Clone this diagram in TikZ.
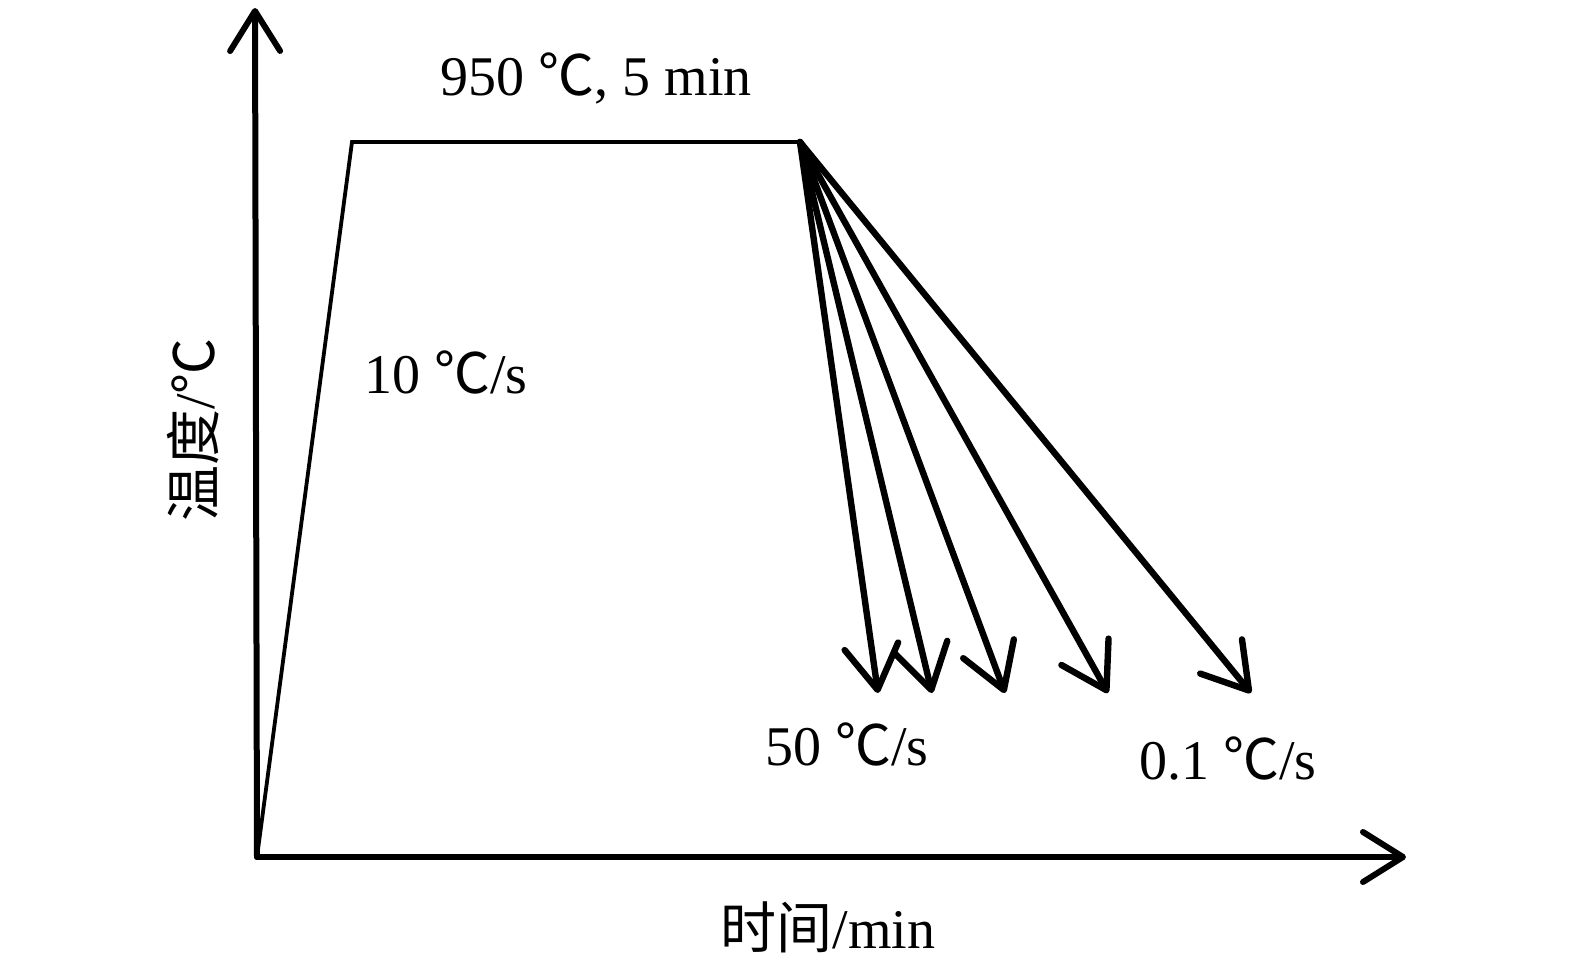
\documentclass[tikz,border=0pt]{standalone}
\usepackage{fontspec}
\setmainfont{Liberation Serif}
\newfontfamily\cjk{Noto Sans CJK SC}
\newcommand{\dgc}{{\cjk ℃}}
\usetikzlibrary{arrows.meta}

\begin{document}
\begin{tikzpicture}[x=0.5pt,y=-0.5pt,
  every node/.style={font=\fontsize{28}{32}\selectfont},
  axisline/.style={line width=3pt,line cap=round,
    -{Straight Barb[length=20pt,width=25pt,line cap=round,line join=round]}},
  coolline/.style={line width=3.2pt,line cap=round,
    -{Straight Barb[length=22pt,width=27pt,line cap=round,line join=round]}}]
  \useasboundingbox (0,0) rectangle (1575,970);
  % axes
  \coordinate (o) at (257,857);
  \coordinate (ytip) at (255,8);
  \coordinate (xtip) at (1406,857);
  \draw[axisline] (o) -- (ytip);
  \draw[axisline] (o) -- (xtip);
  % heating and holding
  \coordinate (heat) at (352,142);
  \coordinate (hold) at (800,142);
  \draw[line width=1.9pt,line join=miter] (o) -- (heat) -- (hold);
  % cooling
  \coordinate (c1) at (878,693);
  \coordinate (c2) at (932,693);
  \coordinate (c3) at (1005,693);
  \coordinate (c4) at (1108,693);
  \coordinate (c5) at (1251,693);
  \foreach \c in {c1,c2,c3,c4,c5}
    \draw[coolline] (hold) -- (\c);
  % labels
  \node (hold lbl) at (596,78) {950 \dgc, 5 min};
  \node (heat lbl) at (446,372) {10 \dgc/s};
  \node (fast lbl) at (847,744) {50 \dgc/s};
  \node (slow lbl) at (1228,759) {0.1 \dgc/s};
  \node (xlbl) at (828,927) {{\cjk 时间}/min};
  \node[rotate=90] (ylbl) at (193,430) {{\cjk 温度}/\dgc};
\end{tikzpicture}
\end{document}
